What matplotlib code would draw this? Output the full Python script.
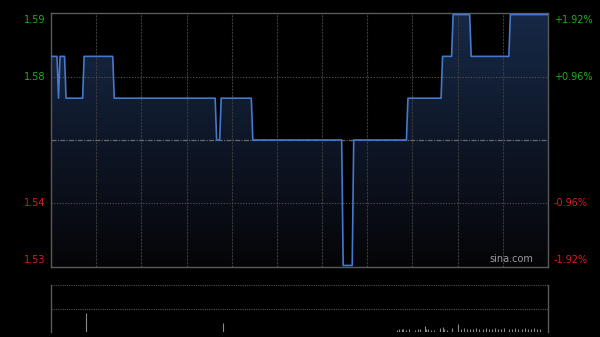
import numpy as np
import matplotlib
matplotlib.use("Agg")
import matplotlib.pyplot as plt
from matplotlib.patches import Polygon

# ---- data ----
prev_close = 1.56
seg_start = [0, 5, 6, 10, 22, 42, 110, 113, 134, 194, 201, 237, 260, 267, 279, 305]
seg_price = [1.58, 1.57, 1.58, 1.57, 1.58, 1.57, 1.56, 1.57, 1.56, 1.53, 1.56, 1.57, 1.58, 1.59, 1.58, 1.59]
n_minutes = 331

left_labels = ["1.59", "1.58", "1.54", "1.53"]
right_labels = ["+1.92%", "+0.96%", "-0.96%", "-1.92%"]
pct_levels = [1.92, 0.96, -0.96, -1.92]

vol_idx = [23, 114, 230, 231, 233, 234, 236, 238, 242, 244, 245, 248, 249, 250, 252, 254,
           258, 260, 261, 263, 266, 270, 272, 274, 276, 278, 280, 282, 284, 287, 289, 291,
           293, 295, 297, 299, 301, 304, 306, 308, 310, 313, 315, 317, 319, 321, 323, 325]
vol_val = [40, 20, 4, 6, 6, 6, 4, 6, 4, 6, 6, 13, 6, 6, 4, 4,
           9, 11, 6, 4, 9, 17, 6, 9, 6, 6, 6, 9, 6, 6, 9, 6,
           6, 9, 6, 6, 9, 6, 6, 9, 6, 6, 9, 6, 6, 9, 6, 6]

# build minute series from segments
price = np.empty(n_minutes)
bounds = seg_start + [n_minutes]
for i, p in enumerate(seg_price):
    price[bounds[i]:bounds[i + 1]] = p
x = np.arange(n_minutes)

W, H = 600, 337
fig = plt.figure(figsize=(W / 100, H / 100), dpi=100, facecolor="black")

ax = fig.add_axes([51 / W, 1 - 267 / H, (548 - 51) / W, (267 - 13) / H])
ax.set_facecolor("black")
lo = prev_close * (1 - 0.0192)
hi = prev_close * (1 + 0.0192)
pad = (hi - lo) * 0.007
ymin, ymax = lo - pad, hi + pad
ax.set_xlim(0, n_minutes - 1)
ax.set_ylim(ymin, ymax)

# gradient fill under line
grad = np.linspace(0, 1, 256).reshape(-1, 1)
top_c = np.array([0.09, 0.16, 0.28])
bot_c = np.array([0.02, 0.02, 0.03])
img = bot_c + (top_c - bot_c) * grad
img = img[::-1].reshape(256, 1, 3)
im = ax.imshow(img, extent=[0, n_minutes - 1, ymin, ymax], aspect="auto", zorder=1, origin="upper")
poly = Polygon(np.column_stack([np.r_[x, x[-1], x[0]], np.r_[price, ymin, ymin]]),
               closed=True, facecolor="none", edgecolor="none")
ax.add_patch(poly)
im.set_clip_path(poly)

# grid
for k in range(1, 11):
    ax.axvline(k * 30, color="#3a3a3a", lw=0.8, ls=(0, (2, 1)), zorder=2)
for p in [0.96, -0.96]:
    ax.axhline(prev_close * (1 + p / 100), color="#555555", lw=0.8, ls=(0, (1, 1.5)), zorder=2)
ax.axhline(prev_close, color="#6a6a6a", lw=0.9, ls=(0, (4, 1, 1, 1)), zorder=2)

ax.plot(x, price, color="#4478cc", lw=1.2, zorder=3)

for s in ax.spines.values():
    s.set_color("#5a5a5a")
    s.set_linewidth(1.0)
ax.set_xticks([])
ax.set_yticks([])

# labels
for lab, rlab, p in zip(left_labels, right_labels, pct_levels):
    yv = prev_close * (1 + p / 100)
    col = "#1fae1f" if p > 0 else "#d42020"
    va = "center"
    if p == pct_levels[0]:
        va = "top"
    elif p == pct_levels[-1]:
        va = "bottom"
    ax.annotate(lab, xy=(0, yv), xycoords=("axes fraction", "data"), xytext=(-4, 0),
                textcoords="offset points", ha="right", va=va, color=col, fontsize=7)
    ax.annotate(rlab, xy=(1, yv), xycoords=("axes fraction", "data"), xytext=(4, 0),
                textcoords="offset points", ha="left", va=va, color=col, fontsize=7)

ax.text(0.97, 0.01, "sina.com", transform=ax.transAxes, ha="right", va="bottom",
        color="#9a9a9a", fontsize=7, zorder=4)

# volume panel
vax = fig.add_axes([51 / W, 1 - 332 / H, (548 - 51) / W, (332 - 285) / H])
vax.set_facecolor("black")
vax.set_xlim(0, n_minutes - 1)
vax.set_ylim(0, 100)
vax.vlines(vol_idx, 0, vol_val, color="#8a8a8a", lw=0.8)
for yv in [100, 50, 1]:
    vax.axhline(yv, color="#555555", lw=0.8, ls=(0, (1, 1)))
vax.spines["top"].set_visible(False)
vax.spines["bottom"].set_visible(False)
for s in ["left", "right"]:
    vax.spines[s].set_color("#5a5a5a")
    vax.spines[s].set_linewidth(1.0)
vax.set_xticks([])
vax.set_yticks([])

fig.savefig("out.png", dpi=100, facecolor="black")
